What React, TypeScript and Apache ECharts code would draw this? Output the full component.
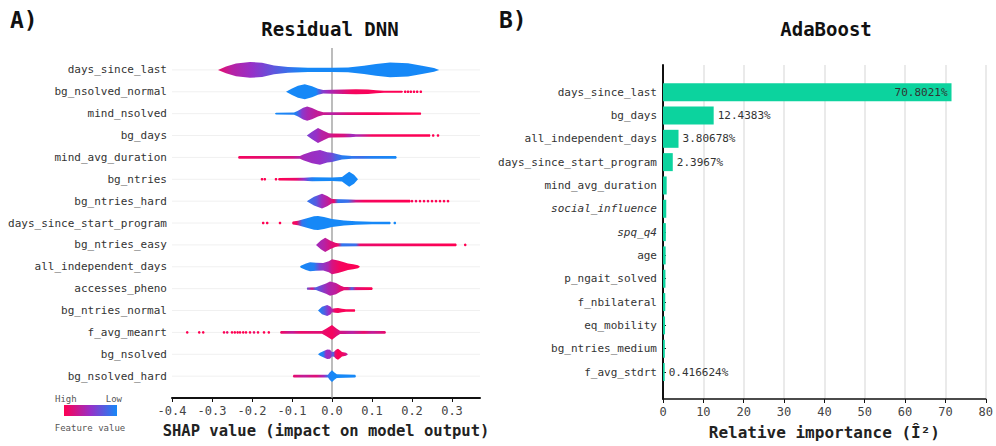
import React, { useEffect, useRef } from "react";
import * as echarts from "echarts";

// ---------- Panel A: SHAP violin summary (Residual DNN) ----------
const shapFeatures = [
  "days_since_last", "bg_nsolved_normal", "mind_nsolved", "bg_days", "mind_avg_duration",
  "bg_ntries", "bg_ntries_hard", "days_since_start_program", "bg_ntries_easy",
  "all_independent_days", "accesses_pheno", "bg_ntries_normal", "f_avg_meanrt",
  "bg_nsolved", "bg_nsolved_hard",
];
const shapTicks = [-0.4, -0.3, -0.2, -0.1, 0.0, 0.1, 0.2, 0.3];

// density profile per feature: [shap value, relative density (1 = widest)]
const violinShape: number[][][] = [
  [[-0.285,0],[-0.265,0.45],[-0.24,0.85],[-0.205,1.07],[-0.175,0.95],[-0.145,0.6],[-0.11,0.4],[-0.06,0.3],[0,0.28],[0.04,0.32],[0.08,0.55],[0.11,0.8],[0.145,1.0],[0.19,0.88],[0.225,0.55],[0.255,0.25],[0.268,0]],
  [[-0.115,0],[-0.1,0.45],[-0.085,0.8],[-0.068,1.0],[-0.05,0.75],[-0.035,0.4],[-0.022,0.22],[0,0.27],[0.03,0.3],[0.06,0.33],[0.09,0.3],[0.11,0.2],[0.13,0.15],[0.175,0.13],[0.178,0]],
  [[-0.143,0],[-0.14,0.13],[-0.095,0.15],[-0.085,0.4],[-0.072,0.8],[-0.062,0.95],[-0.05,0.75],[-0.035,0.4],[-0.022,0.18],[0,0.17],[0.1,0.17],[0.222,0.15],[0.223,0]],
  [[-0.063,0],[-0.05,0.5],[-0.035,1.0],[-0.02,0.6],[-0.008,0.3],[0,0.27],[0.045,0.25],[0.06,0.18],[0.245,0.17],[0.246,0]],
  [[-0.235,0],[-0.233,0.17],[-0.08,0.2],[-0.072,0.4],[-0.05,0.8],[-0.03,1.0],[-0.012,0.7],[0,0.62],[0.012,0.45],[0.025,0.3],[0.05,0.2],[0.16,0.18],[0.162,0]],
  [[-0.135,0],[-0.133,0.17],[-0.07,0.2],[-0.05,0.27],[0.0,0.25],[0.025,0.3],[0.035,0.7],[0.043,1.0],[0.055,0.6],[0.065,0]],
  [[-0.063,0],[-0.045,0.6],[-0.025,1.0],[-0.012,0.7],[0,0.3],[0.045,0.22],[0.06,0.18],[0.195,0.17],[0.197,0]],
  [[-0.1,0],[-0.098,0.2],[-0.085,0.3],[-0.065,0.6],[-0.045,0.9],[-0.035,0.95],[-0.02,0.8],[0,0.55],[0.03,0.35],[0.06,0.25],[0.1,0.18],[0.145,0.17],[0.147,0]],
  [[-0.04,0],[-0.028,0.6],[-0.017,0.95],[-0.005,0.6],[0.008,0.3],[0.015,0.22],[0.07,0.2],[0.31,0.17],[0.312,0]],
  [[-0.08,0],[-0.078,0.15],[-0.065,0.45],[-0.055,0.6],[-0.04,0.55],[-0.022,0.5],[-0.008,0.75],[0.0,1.0],[0.015,0.85],[0.028,0.65],[0.04,0.45],[0.053,0.33],[0.065,0.2],[0.07,0]],
  [[-0.063,0],[-0.062,0.15],[-0.04,0.18],[-0.032,0.35],[-0.015,0.7],[-0.005,0.95],[0.01,0.75],[0.022,0.4],[0.03,0.22],[0.1,0.18],[0.102,0]],
  [[-0.035,0],[-0.025,0.5],[-0.012,0.75],[-0.003,0.5],[0.0,0.25],[0.008,0.3],[0.015,0.35],[0.025,0.25],[0.035,0.18],[0.057,0.17],[0.058,0]],
  [[-0.13,0],[-0.128,0.17],[-0.025,0.2],[-0.015,0.5],[0,1.0],[0.012,0.5],[0.02,0.22],[0.133,0.18],[0.135,0]],
  [[-0.035,0],[-0.03,0.2],[-0.022,0.4],[-0.012,0.65],[-0.005,0.6],[0.0,0.3],[0.005,0.35],[0.01,0.6],[0.015,0.75],[0.02,0.55],[0.025,0.3],[0.035,0.2],[0.04,0]],
  [[-0.098,0],[-0.096,0.17],[-0.01,0.2],[-0.006,0.5],[0,0.8],[0.006,0.5],[0.012,0.25],[0.058,0.2],[0.06,0]],
];

// feature-value colour along each violin: [shap value, t] (t: 0 = high, 1 = low)
const violinColor: number[][][] = [
  [[-0.285,0.1],[-0.25,0.35],[-0.2,0.5],[-0.15,0.7],[-0.1,0.9],[-0.07,1]],
  [[-0.115,1],[-0.04,1],[-0.025,0.6],[-0.01,0.45],[0.02,0.25],[0.05,0.05],[0.18,0]],
  [[-0.143,1],[-0.09,0.95],[-0.075,0.55],[-0.06,0.4],[-0.04,0.3],[-0.02,0.25],[0.0,0.35],[0.04,0.15],[0.08,0.05],[0.22,0]],
  [[-0.063,0.6],[-0.04,0.5],[-0.025,0.35],[-0.01,0.3],[0.01,0.15],[0.03,0.2],[0.05,0.45],[0.07,0.35],[0.1,0.05],[0.246,0]],
  [[-0.235,0.05],[-0.15,0.15],[-0.1,0.2],[-0.07,0.45],[-0.03,0.5],[-0.005,0.6],[0.01,0.8],[0.03,0.95],[0.07,0.85],[0.1,0.95],[0.16,1]],
  [[-0.135,0],[-0.09,0.1],[-0.07,0.5],[-0.055,0.9],[-0.04,1],[0.065,1]],
  [[-0.063,0.9],[-0.04,0.75],[-0.025,0.45],[-0.01,0.3],[0.005,0.1],[0.015,0.9],[0.04,0.85],[0.06,0.2],[0.08,0.05],[0.2,0]],
  [[-0.1,0],[-0.088,0.1],[-0.075,0.9],[-0.06,1],[0.147,1]],
  [[-0.04,0.45],[-0.02,0.35],[0.0,0.15],[0.015,0.1],[0.025,0.9],[0.06,0.85],[0.07,0.1],[0.31,0]],
  [[-0.08,1],[-0.045,0.95],[-0.03,0.6],[-0.01,0.4],[0,0.2],[0.02,0.05],[0.07,0]],
  [[-0.063,0.7],[-0.05,0.2],[-0.04,0.8],[-0.03,0.65],[-0.01,0.4],[0.01,0.3],[0.025,0.1],[0.04,0.2],[0.05,0.8],[0.06,0.15],[0.1,0]],
  [[-0.035,1],[-0.02,0.8],[-0.008,0.5],[0.0,0.35],[0.008,0.05],[0.058,0]],
  [[-0.13,0.05],[-0.1,0.3],[-0.08,0.1],[-0.04,0.15],[-0.02,0.1],[0,0.05],[0.02,0.2],[0.05,0.35],[0.08,0.1],[0.1,0.3],[0.135,0.1]],
  [[-0.035,1],[-0.022,0.95],[-0.015,0.5],[-0.005,0.45],[0.003,0.8],[0.008,0.15],[0.015,0],[0.03,0.1],[0.04,0.4]],
  [[-0.098,0.1],[-0.07,0.3],[-0.04,0.15],[-0.02,0.45],[-0.01,0.9],[0,1],[0.06,1]],
];

// isolated points outside the violins: [shap value, t]
const violinDots: number[][][] = [
  [],
  [[0.183,0],[0.19,0],[0.197,0],[0.205,0],[0.213,0],[0.222,0]],
  [],
  [[0.253,0],[0.265,0]],
  [],
  [[-0.175,0],[-0.168,0],[-0.14,0]],
  [[0.2,0],[0.21,0.05],[0.22,0],[0.23,0],[0.24,0.05],[0.25,0],[0.26,0],[0.27,0],[0.28,0],[0.29,0]],
  [[-0.172,0],[-0.162,0],[-0.13,0],[0.157,1]],
  [[0.333,0]],
  [],
  [],
  [],
  [[-0.362,0],[-0.332,0],[-0.322,0],[-0.27,0],[-0.262,0.1],[-0.25,0],[-0.243,0],[-0.236,0],[-0.23,0],[-0.222,0],[-0.215,0],[-0.205,0],[-0.195,0.1],[-0.185,0],[-0.17,0],[-0.158,0]],
  [],
  [],
];

// ---------- Panel B: AdaBoost relative importance ----------
const barFeatures = [
  "days_since_last", "bg_days", "all_independent_days", "days_since_start_program",
  "mind_avg_duration", "social_influence", "spq_q4", "age", "p_ngait_solved",
  "f_nbilateral", "eq_mobility", "bg_ntries_medium", "f_avg_stdrt",
];
const barValues = [70.8021, 12.4383, 3.80678, 2.3967, 0.9, 0.8, 0.7, 0.65, 0.6, 0.55, 0.5, 0.45, 0.416624];
const barLabelled = [0, 1, 2, 3, 12];
const italicFeatures = ["social_influence", "spq_q4"];
const importanceTicks = [0, 10, 20, 30, 40, 50, 60, 70, 80];

const MONO = '"DejaVu Sans Mono", "Liberation Mono", monospace';
const HIGH = [255, 0, 82];
const MID = [150, 48, 200];
const LOW = [22, 136, 247];

function shapColor(t: number): string {
  const a = t < 0.5 ? HIGH : MID;
  const b = t < 0.5 ? MID : LOW;
  const f = t < 0.5 ? t / 0.5 : (t - 0.5) / 0.5;
  const c = a.map((v, i) => Math.round(v + (b[i] - v) * f));
  return `rgb(${c[0]},${c[1]},${c[2]})`;
}

export default function App() {
  const ref = useRef<HTMLDivElement>(null);
  useEffect(() => {
    document.body.style.margin = "0";
    if (!ref.current) return;
    const chart = echarts.init(ref.current, null, { renderer: "svg" });

    const rowData = shapFeatures.map((_, i) => [0, i]);

    const option: any = {
      animation: false,
      backgroundColor: "#fff",
      textStyle: { fontFamily: MONO },
      grid: [
        { left: 172, right: 516, top: 48, bottom: 48 },
        { left: 663, right: 7, top: 65, bottom: 47 },
        { left: 663, right: 7, top: 80.5, bottom: 62.3 },
      ],
      xAxis: [
        {
          gridIndex: 0, type: "value", min: -0.4, max: 0.37, interval: 0.1,
          axisLine: { show: true, onZero: false, lineStyle: { color: "#111", width: 2 } },
          axisTick: { show: true, length: 4, lineStyle: { color: "#111" } },
          splitLine: { show: false },
          axisLabel: {
            showMaxLabel: false, margin: 7, fontSize: 12, color: "#444", fontFamily: MONO,
            formatter: (v: number) => {
              const n = shapTicks.find((t) => Math.abs(t - v) < 1e-6);
              return n === undefined ? "" : n.toFixed(1);
            },
          },
          name: "SHAP value (impact on model output)", nameLocation: "middle", nameGap: 25,
          nameTextStyle: { fontSize: 15.5, fontWeight: "bold", color: "#222", fontFamily: MONO },
        },
        {
          gridIndex: 1, type: "value", min: 0, max: 80, interval: 10,
          axisLine: { show: true, onZero: false, lineStyle: { color: "#111", width: 1.5 } },
          axisTick: { show: true, length: 4, lineStyle: { color: "#111" } },
          splitLine: { show: true, lineStyle: { color: "#e3e3e3", width: 1.5 } },
          axisLabel: {
            margin: 7, fontSize: 12, color: "#444", fontFamily: MONO,
            formatter: (v: number) => (importanceTicks.includes(v) ? String(v) : ""),
          },
          name: "Relative importance (Î²)",
          nameLocation: "middle", nameGap: 25,
          nameTextStyle: { fontSize: 16, fontWeight: "bold", color: "#222", fontFamily: MONO },
        },
        { gridIndex: 2, type: "value", min: 0, max: 80, show: false },
      ],
      yAxis: [
        {
          gridIndex: 0, type: "value", min: -1, max: 15, interval: 1, inverse: true,
          axisLine: { show: false, onZero: false }, axisTick: { show: false }, splitLine: { show: false },
          axisLabel: {
            margin: 5, fontSize: 11, color: "#333", fontFamily: MONO,
            formatter: (v: number) => shapFeatures[v] ?? "",
          },
        },
        {
          gridIndex: 1, type: "value", min: 0, max: 1,
          axisLine: { show: true, onZero: false, lineStyle: { color: "#111", width: 2 } },
          axisTick: { show: false }, axisLabel: { show: false }, splitLine: { show: false },
        },
        {
          gridIndex: 2, type: "category", data: barFeatures, inverse: true,
          axisLine: { show: false, onZero: false },
          axisTick: { show: true, inside: true, length: 3, alignWithLabel: true, lineStyle: { color: "#111" } },
          axisLabel: {
            margin: 6, fontSize: 11, color: "#333", fontFamily: MONO,
            formatter: (v: string) => (italicFeatures.includes(v) ? `{i|${v}}` : v),
            rich: { i: { fontStyle: "italic", fontSize: 11, color: "#333", fontFamily: MONO } },
          },
        },
      ],
      series: [
        {
          // faint row guide lines
          type: "custom", xAxisIndex: 0, yAxisIndex: 0, silent: true, z: 1,
          data: rowData, encode: { x: 0, y: 1 },
          renderItem: (params: any, api: any) => {
            const row = api.value(1);
            const cs = params.coordSys;
            const p = api.coord([0, row]);
            return {
              type: "line",
              shape: { x1: cs.x, y1: p[1], x2: cs.x + cs.width, y2: p[1] },
              style: { stroke: "#f0f0f0", lineWidth: 1 },
            };
          },
        },
        {
          // zero reference line
          type: "custom", xAxisIndex: 0, yAxisIndex: 0, silent: true, z: 1,
          data: [[0, 0]], encode: { x: 0, y: 1 },
          renderItem: (params: any, api: any) => {
            const cs = params.coordSys;
            const p = api.coord([api.value(0), 0]);
            return {
              type: "line",
              shape: { x1: p[0], y1: cs.y, x2: p[0], y2: cs.y + cs.height },
              style: { stroke: "#999", lineWidth: 1.3 },
            };
          },
        },
        {
          type: "custom", xAxisIndex: 0, yAxisIndex: 0, silent: true, z: 2,
          data: rowData, encode: { x: 0, y: 1 },
          renderItem: (params: any, api: any) => {
            const row = api.value(1);
            const prof = violinShape[row];
            const unit = api.size([0, 1])[1];
            const maxHW = unit * 0.34;
            const upper = prof.map(([x, d]) => {
              const q = api.coord([x, row]);
              return [q[0], q[1] - d * maxHW];
            });
            const lower = prof.slice().reverse().map(([x, d]) => {
              const q = api.coord([x, row]);
              return [q[0], q[1] + d * maxHW];
            });
            const x0 = prof[0][0];
            const x1 = prof[prof.length - 1][0];
            const stops = violinColor[row].map(([x, t]) => ({
              offset: Math.max(0, Math.min(1, (x - x0) / (x1 - x0))),
              color: shapColor(t),
            }));
            const children: any[] = [
              {
                type: "polygon",
                shape: { points: upper.concat(lower) },
                style: { fill: new echarts.graphic.LinearGradient(0, 0, 1, 0, stops) },
              },
            ];
            violinDots[row].forEach(([x, t]) => {
              const q = api.coord([x, row]);
              children.push({
                type: "circle",
                shape: { cx: q[0], cy: q[1], r: 1.3 },
                style: { fill: shapColor(t) },
              });
            });
            return { type: "group", children };
          },
        },
        {
          type: "bar", xAxisIndex: 2, yAxisIndex: 2, barWidth: 18,
          itemStyle: { color: "#0cd39e" },
          data: barValues.map((v, i) => ({
            value: v,
            label: {
              show: barLabelled.includes(i),
              position: i === 0 ? "insideRight" : "right",
              distance: 4,
              formatter: `${v}%`,
              fontSize: 11, color: "#333", fontFamily: MONO,
            },
          })),
        },
      ],
      graphic: [
        { type: "text", x: 10, y: 20, style: { text: "A)", font: `bold 23px ${MONO}`, fill: "#111", verticalAlign: "middle" } },
        { type: "text", x: 499, y: 20, style: { text: "B)", font: `bold 23px ${MONO}`, fill: "#111", verticalAlign: "middle" } },
        { type: "text", x: 330, y: 29, style: { text: "Residual DNN", font: `bold 19px ${MONO}`, fill: "#111", align: "center", verticalAlign: "middle" } },
        { type: "text", x: 826, y: 29, style: { text: "AdaBoost", font: `bold 19px ${MONO}`, fill: "#111", align: "center", verticalAlign: "middle" } },
        { type: "text", x: 55, y: 399, style: { text: "High", font: `9px ${MONO}`, fill: "#555", verticalAlign: "middle" } },
        { type: "text", x: 122, y: 399, style: { text: "Low", font: `9px ${MONO}`, fill: "#555", align: "right", verticalAlign: "middle" } },
        {
          type: "rect", shape: { x: 64, y: 405, width: 53, height: 11 },
          style: {
            fill: new echarts.graphic.LinearGradient(0, 0, 1, 0, [
              { offset: 0, color: shapColor(0) },
              { offset: 0.5, color: shapColor(0.5) },
              { offset: 1, color: shapColor(1) },
            ]),
          },
        },
        { type: "text", x: 90, y: 428, style: { text: "Feature value", font: `9px ${MONO}`, fill: "#555", align: "center", verticalAlign: "middle" } },
      ],
    };
    chart.setOption(option);
    return () => chart.dispose();
  }, []);
  return <div ref={ref} style={{ width: 996, height: 446 }} />;
}
